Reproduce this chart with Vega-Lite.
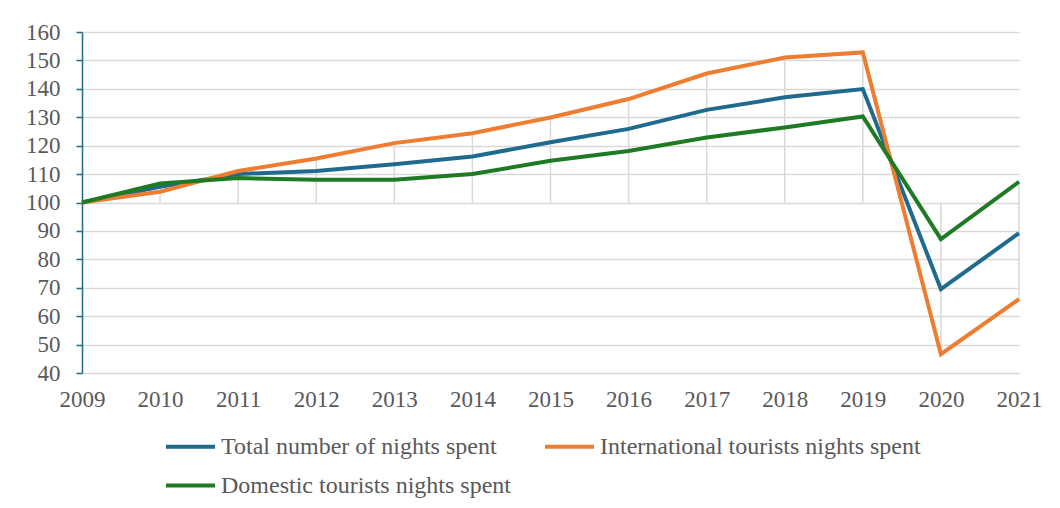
{
  "$schema": "https://vega.github.io/schema/vega-lite/v6.json",
  "autosize": "none",
  "padding": {"left": 82, "top": 32, "right": 41, "bottom": 135},
  "width": 937,
  "height": 341,
  "background": "white",
  "config": {
    "view": {"stroke": null},
    "font": "'Liberation Serif', 'Times New Roman', serif",
    "axisY": {
      "title": null,
      "values": [40, 50, 60, 70, 80, 90, 100, 110, 120, 130, 140, 150, 160],
      "labelOverlap": false,
      "grid": true,
      "gridColor": "#d9d9d9",
      "gridWidth": 1.5,
      "domainColor": "#1f6a8d",
      "domainWidth": 1.5,
      "tickColor": "#1f6a8d",
      "tickSize": 6,
      "tickWidth": 1.5,
      "labelFont": "'Liberation Serif', 'Times New Roman', serif",
      "labelFontSize": 23,
      "labelColor": "#595959",
      "labelPadding": 16
    }
  },
  "data": {
    "values": [
      {"year": "2009", "series": "Total number of nights spent", "value": 100},
      {"year": "2010", "series": "Total number of nights spent", "value": 105.5},
      {"year": "2011", "series": "Total number of nights spent", "value": 110},
      {"year": "2012", "series": "Total number of nights spent", "value": 111.1},
      {"year": "2013", "series": "Total number of nights spent", "value": 113.5},
      {"year": "2014", "series": "Total number of nights spent", "value": 116.2},
      {"year": "2015", "series": "Total number of nights spent", "value": 121.2},
      {"year": "2016", "series": "Total number of nights spent", "value": 125.9},
      {"year": "2017", "series": "Total number of nights spent", "value": 132.6},
      {"year": "2018", "series": "Total number of nights spent", "value": 137},
      {"year": "2019", "series": "Total number of nights spent", "value": 139.9},
      {"year": "2020", "series": "Total number of nights spent", "value": 69.5},
      {"year": "2021", "series": "Total number of nights spent", "value": 89.2},
      {"year": "2009", "series": "International tourists nights spent", "value": 100},
      {"year": "2010", "series": "International tourists nights spent", "value": 103.8},
      {"year": "2011", "series": "International tourists nights spent", "value": 111.1},
      {"year": "2012", "series": "International tourists nights spent", "value": 115.5},
      {"year": "2013", "series": "International tourists nights spent", "value": 120.9},
      {"year": "2014", "series": "International tourists nights spent", "value": 124.4},
      {"year": "2015", "series": "International tourists nights spent", "value": 129.9},
      {"year": "2016", "series": "International tourists nights spent", "value": 136.4},
      {"year": "2017", "series": "International tourists nights spent", "value": 145.4},
      {"year": "2018", "series": "International tourists nights spent", "value": 151},
      {"year": "2019", "series": "International tourists nights spent", "value": 152.8},
      {"year": "2020", "series": "International tourists nights spent", "value": 46.6},
      {"year": "2021", "series": "International tourists nights spent", "value": 66},
      {"year": "2009", "series": "Domestic tourists nights spent", "value": 100},
      {"year": "2010", "series": "Domestic tourists nights spent", "value": 106.7},
      {"year": "2011", "series": "Domestic tourists nights spent", "value": 108.6},
      {"year": "2012", "series": "Domestic tourists nights spent", "value": 108},
      {"year": "2013", "series": "Domestic tourists nights spent", "value": 108},
      {"year": "2014", "series": "Domestic tourists nights spent", "value": 110},
      {"year": "2015", "series": "Domestic tourists nights spent", "value": 114.7},
      {"year": "2016", "series": "Domestic tourists nights spent", "value": 118.1},
      {"year": "2017", "series": "Domestic tourists nights spent", "value": 122.9},
      {"year": "2018", "series": "Domestic tourists nights spent", "value": 126.4},
      {"year": "2019", "series": "Domestic tourists nights spent", "value": 130.3},
      {"year": "2020", "series": "Domestic tourists nights spent", "value": 87.1},
      {"year": "2021", "series": "Domestic tourists nights spent", "value": 107.3}
    ]
  },
  "encoding": {
    "x": {
      "field": "year",
      "type": "ordinal",
      "scale": {"type": "point", "padding": 0},
      "axis": {
        "title": null,
        "labelAngle": 0,
        "domain": false,
        "ticks": false,
        "grid": false,
        "labelOverlap": false,
        "labelFont": "'Liberation Serif', 'Times New Roman', serif",
        "labelFontSize": 23,
        "labelColor": "#595959",
        "labelPadding": 15
      }
    }
  },
  "layer": [
    {
      "transform": [
        {"aggregate": [{"op": "min", "field": "value", "as": "minv"}, {"op": "max", "field": "value", "as": "maxv"}], "groupby": ["year"]},
        {"calculate": "min(datum.minv, 100)", "as": "lo"},
        {"calculate": "max(datum.maxv, 100)", "as": "hi"}
      ],
      "mark": {"type": "rule", "color": "#d9d9d9", "strokeWidth": 1.5},
      "encoding": {
        "y": {"field": "lo", "type": "quantitative", "scale": {"domain": [40, 160], "nice": false}, "title": null},
        "y2": {"field": "hi"}
      }
    },
    {
      "mark": {"type": "line", "strokeWidth": 4},
      "encoding": {
        "y": {
          "field": "value",
          "type": "quantitative",
          "scale": {"domain": [40, 160], "nice": false},
          "title": null
        },
        "color": {
          "field": "series",
          "type": "nominal",
          "sort": null,
          "scale": {
            "domain": ["Total number of nights spent", "International tourists nights spent", "Domestic tourists nights spent"],
            "range": ["#1f6a8d", "#ee7d31", "#1f7a24"]
          },
          "legend": {
            "title": null,
            "orient": "none",
            "legendX": 82,
            "legendY": 388,
            "direction": "horizontal",
            "columns": 2,
            "symbolType": "stroke",
            "symbolSize": 2401,
            "symbolStrokeWidth": 4,
            "labelFont": "'Liberation Serif', 'Times New Roman', serif",
            "labelFontSize": 24,
            "labelColor": "#595959",
            "labelOffset": 4,
            "labelLimit": 400,
            "columnPadding": 26,
            "rowPadding": -11
          }
        }
      }
    }
  ]
}
